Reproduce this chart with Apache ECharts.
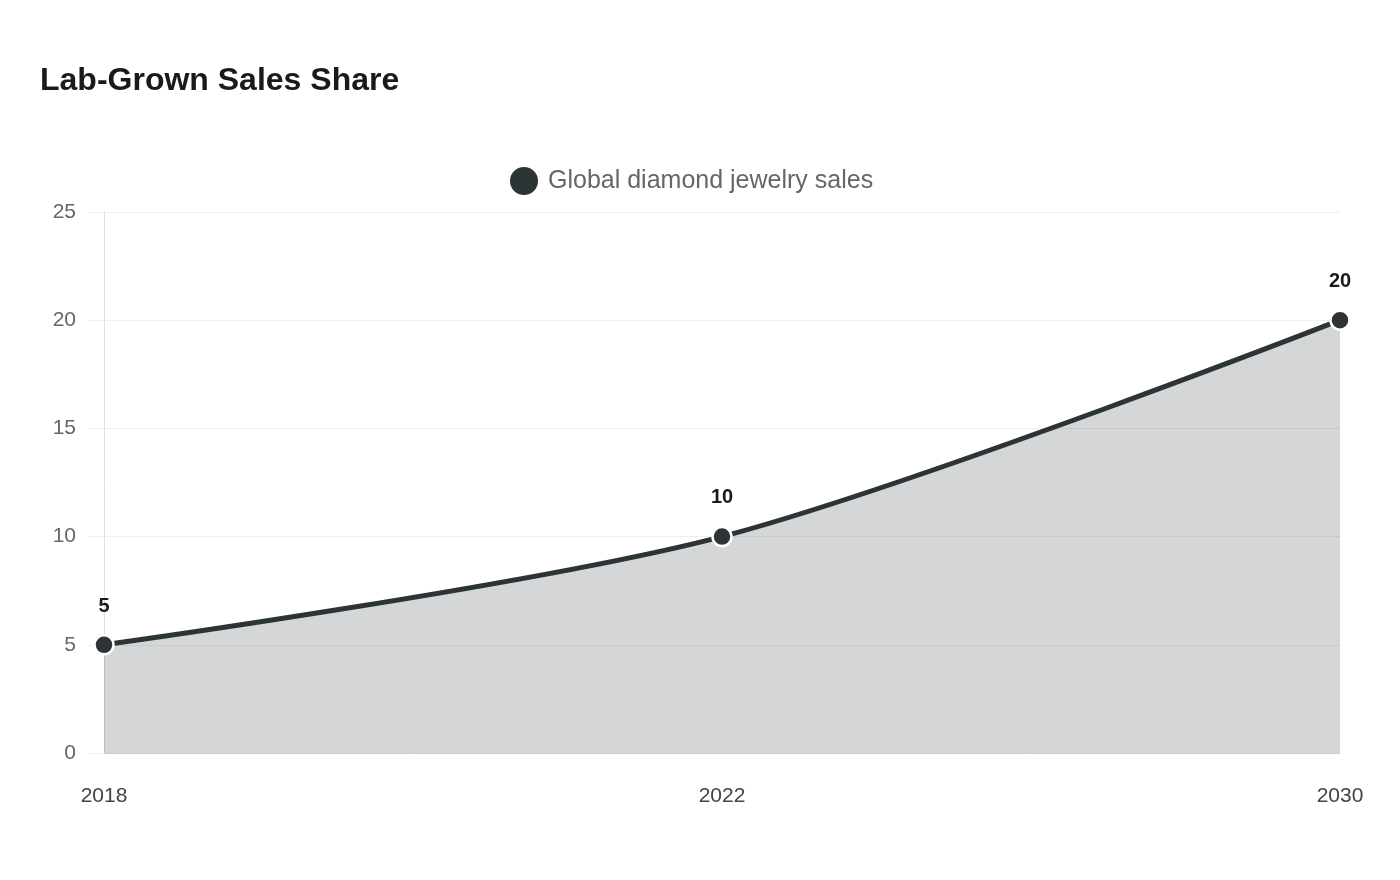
<!DOCTYPE html>
<html>
<head>
<meta charset="utf-8">
<script src="https://cdn.jsdelivr.net/npm/echarts@6/dist/echarts.min.js"></script>
<style>
html,body{margin:0;padding:0;background:#fff;}
#chart{width:1400px;height:880px;}
</style>
</head>
<body>
<div id="chart"></div>
<script>
const titleText = 'Lab-Grown Sales Share';
const seriesName = 'Global diamond jewelry sales';
const categories = ['2018', '2022', '2030'];
const values = [5, 10, 20];

const chart = echarts.init(document.getElementById('chart'));
chart.setOption({
  backgroundColor: '#ffffff',
  textStyle: { fontFamily: 'Liberation Sans, Arial, sans-serif' },
  title: {
    text: titleText,
    left: 35,
    top: 60,
    textStyle: { fontSize: 32, fontWeight: 'bold', color: '#1a1a1a' }
  },
  legend: {
    top: 160,
    left: 503,
    icon: 'circle',
    itemWidth: 30,
    itemHeight: 30,
    itemGap: 10,
    textStyle: { fontSize: 25, color: '#666666', padding: [0, 0, 0, 4] },
    data: [seriesName]
  },
  grid: { left: 104, right: 60, top: 212, bottom: 127, containLabel: false },
  xAxis: {
    type: 'category',
    data: categories,
    boundaryGap: false,
    axisLine: { show: true, lineStyle: { color: '#cccccc', width: 1 } },
    axisTick: { show: false },
    axisLabel: { fontSize: 21, color: '#444444', margin: 33 },
    splitLine: { show: false }
  },
  yAxis: {
    type: 'value',
    min: 0,
    max: 25,
    interval: 5,
    axisLine: { show: true, lineStyle: { color: '#e0e0e0', width: 1 } },
    axisTick: { show: true, length: 16, lineStyle: { color: '#eeeeee' } },
    axisLabel: { fontSize: 21, color: '#666666', margin: 28 },
    splitLine: { show: true, lineStyle: { color: '#eeeeee', width: 1 } }
  },
  series: [{
    name: seriesName,
    type: 'line',
    data: values,
    smooth: 0.3,
    symbol: 'circle',
    symbolSize: 19,
    lineStyle: { color: '#2d3436', width: 5 },
    itemStyle: { color: '#2d3436', borderColor: '#ffffff', borderWidth: 2.5 },
    areaStyle: { color: '#2d3436', opacity: 0.2 },
    label: {
      show: true,
      position: 'top',
      distance: 18,
      fontSize: 20,
      fontWeight: 'bold',
      color: '#1a1a1a'
    }
  }]
});
</script>
</body>
</html>
